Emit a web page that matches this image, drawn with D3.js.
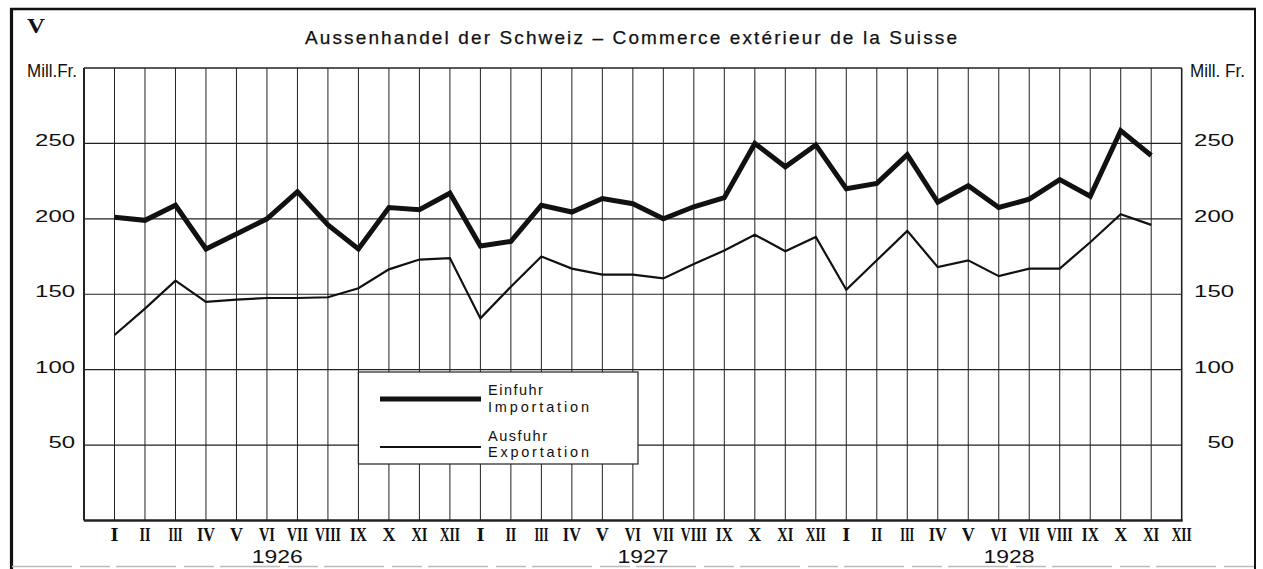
<!DOCTYPE html>
<html>
<head>
<meta charset="utf-8">
<script src="https://cdn.jsdelivr.net/npm/d3@7"></script>
<style>
html,body{margin:0;padding:0;background:#fff;}
svg{display:block;}
</style>
</head>
<body>
<svg id="chart" width="1263" height="569"></svg>
<script>
// ---- data ----
const years = ["1926", "1927", "1928"];
const monthLabels = ["I","II","III","IV","V","VI","VII","VIII","IX","X","XI","XII"];
const yTicks = [50, 100, 150, 200, 250];
// Einfuhr / Importation (Mill. Fr.), I.1926 .. XI.1928
const importValues = [
  201, 199, 209, 180, 190, 200, 218, 196, 180, 207.5, 206, 217,
  182, 185, 209, 204.5, 213.5, 210, 200, 208, 214, 250, 234.5, 249,
  220, 223.5, 242.5, 211, 222, 207.5, 213, 226, 215, 258.5, 242
];
// Ausfuhr / Exportation (Mill. Fr.), I.1926 .. XI.1928
const exportValues = [
  123, 140.5, 159, 145, 146.5, 147.5, 147.5, 148, 154, 166.5, 173, 174,
  134, 155, 175, 167, 163, 163, 160.5, 170, 179, 189.5, 178.5, 188,
  153, 172.5, 192, 168, 172.5, 162, 167, 167, 184.5, 203, 196
];
const titleText = "Aussenhandel der Schweiz \u2013 Commerce extérieur de la Suisse";
const unitText = "Mill.Fr.";
const unitTextRight = "Mill. Fr.";
const legendItems = [["Einfuhr", "Importation"], ["Ausfuhr", "Exportation"]];

// ---- layout ----
const svg = d3.select("#chart");
const X0 = 84, X1 = 1181.7, Y0 = 520.5, Y1 = 68;
const nSlots = years.length * 12; // 36
const x = d3.scaleLinear().domain([0, nSlots]).range([X0, X1]);
const y = d3.scaleLinear().domain([0, 300]).range([Y0, Y1]);

const sans = "'Liberation Sans', Arial, sans-serif";
const serif = "'Liberation Serif', 'DejaVu Serif', serif";

// outer frame
const frame = svg.append("g").attr("stroke", "#111").attr("fill", "none");
frame.append("line").attr("x1", 10).attr("x2", 1256).attr("y1", 9).attr("y2", 9).attr("stroke-width", 2.5);
frame.append("line").attr("x1", 11.5).attr("x2", 11.5).attr("y1", 8).attr("y2", 569).attr("stroke-width", 3.2);
frame.append("line").attr("x1", 1255).attr("x2", 1255).attr("y1", 8).attr("y2", 569).attr("stroke-width", 2);
svg.append("line").attr("x1", 12).attr("x2", 1255).attr("y1", 566.5).attr("y2", 566.5)
  .attr("stroke", "#bbb").attr("stroke-width", 1.5).attr("stroke-dasharray", "60,8,30,6");

// "V" marker
svg.append("text").attr("x", 27).attr("y", 33).text("V")
  .attr("font-family", serif).attr("font-weight", "bold").attr("font-size", 21).attr("fill", "#111")
  .attr("textLength", 18).attr("lengthAdjust", "spacingAndGlyphs");

// title
svg.append("text").attr("x", 305).attr("y", 44).text(titleText)
  .attr("font-family", sans).attr("font-size", 19).attr("fill", "#111")
  .attr("stroke", "#111").attr("stroke-width", 0.25)
  .attr("textLength", 652).attr("lengthAdjust", "spacing");

// unit labels
svg.append("text").attr("x", 27).attr("y", 77).text(unitText)
  .attr("font-family", sans).attr("font-size", 18).attr("fill", "#111")
  .attr("textLength", 50).attr("lengthAdjust", "spacingAndGlyphs");
svg.append("text").attr("x", 1190).attr("y", 77).text(unitTextRight)
  .attr("font-family", sans).attr("font-size", 18).attr("fill", "#111")
  .attr("textLength", 55).attr("lengthAdjust", "spacingAndGlyphs");

// grid
const grid = svg.append("g").attr("stroke", "#222").attr("fill", "none");
grid.selectAll("line.v").data(d3.range(1, nSlots)).join("line")
  .attr("x1", d => x(d)).attr("x2", d => x(d)).attr("y1", Y1).attr("y2", Y0)
  .attr("stroke-width", 1);
grid.selectAll("line.h").data(yTicks).join("line")
  .attr("x1", X0).attr("x2", X1).attr("y1", d => y(d)).attr("y2", d => y(d))
  .attr("stroke-width", 1.1);
// plot border
grid.append("line").attr("x1", X0).attr("x2", X1).attr("y1", Y1).attr("y2", Y1).attr("stroke-width", 1.6);
grid.append("line").attr("x1", X0).attr("x2", X1 + 1).attr("y1", Y0).attr("y2", Y0).attr("stroke-width", 2.5);
grid.append("line").attr("x1", X0).attr("x2", X0).attr("y1", Y1).attr("y2", Y0).attr("stroke-width", 2);
grid.append("line").attr("x1", X1).attr("x2", X1).attr("y1", Y1).attr("y2", Y0).attr("stroke-width", 1.6);

// y tick labels (both sides)
const tickW = d => String(d).length * 13.3;
svg.append("g").selectAll("text").data(yTicks).join("text")
  .attr("x", d => 75 - tickW(d)).attr("y", d => y(d) + 3)
  .text(d => d).attr("font-family", sans).attr("font-size", 16).attr("fill", "#111")
  .attr("textLength", tickW).attr("lengthAdjust", "spacingAndGlyphs");
svg.append("g").selectAll("text").data(yTicks).join("text")
  .attr("x", d => 1234 - tickW(d)).attr("y", d => y(d) + 3)
  .text(d => d).attr("font-family", sans).attr("font-size", 16).attr("fill", "#111")
  .attr("textLength", tickW).attr("lengthAdjust", "spacingAndGlyphs");

// x month labels
const numW = {"I":8,"II":11,"III":14,"IV":18,"V":13,"VI":16,"VII":21,"VIII":26,"IX":17,"X":13,"XI":16,"XII":20};
const slots = d3.range(nSlots).map(i => ({i: i + 1, m: monthLabels[i % 12]}));
svg.append("g").selectAll("text").data(slots).join("text")
  .attr("x", d => x(d.i) - numW[d.m] / 2).attr("y", 541)
  .text(d => d.m).attr("font-family", serif).attr("font-weight", "bold").attr("font-size", 18).attr("fill", "#111")
  .attr("textLength", d => numW[d.m]).attr("lengthAdjust", "spacingAndGlyphs");

// years
svg.append("g").selectAll("text").data(years).join("text")
  .attr("x", (d, k) => x(k * 12 + 6.5) - 5 - 25.5).attr("y", 563)
  .text(d => d).attr("font-family", sans).attr("font-size", 18.5).attr("fill", "#111")
  .attr("textLength", 51).attr("lengthAdjust", "spacingAndGlyphs");

// legend
const lg = svg.append("g");
lg.append("rect").attr("x", x(9)).attr("y", 372).attr("width", 638 - x(9)).attr("height", 92)
  .attr("fill", "#fff").attr("stroke", "#222").attr("stroke-width", 1.2);
const lgY = [399, 447];
const lgW = [5, 2.2];
legendItems.forEach((it, k) => {
  lg.append("line").attr("x1", 380).attr("x2", 481).attr("y1", lgY[k]).attr("y2", lgY[k])
    .attr("stroke", "#111").attr("stroke-width", lgW[k]);
  lg.append("text").attr("x", 488).attr("y", k === 0 ? 395 : 441).text(it[0])
    .attr("font-family", sans).attr("font-size", 14.5).attr("fill", "#111").attr("letter-spacing", 1.5);
  lg.append("text").attr("x", 488).attr("y", k === 0 ? 412 : 457).text(it[1])
    .attr("font-family", sans).attr("font-size", 14.5).attr("fill", "#111")
    .attr("textLength", 101).attr("lengthAdjust", "spacing");
});

// data lines
const line = d3.line().x((d, i) => x(i + 1)).y(d => y(d));
svg.append("path").datum(exportValues).attr("d", line)
  .attr("fill", "none").attr("stroke", "#111").attr("stroke-width", 2.2)
  .attr("stroke-linejoin", "miter");
svg.append("path").datum(importValues).attr("d", line)
  .attr("fill", "none").attr("stroke", "#111").attr("stroke-width", 5)
  .attr("stroke-linejoin", "miter").attr("stroke-miterlimit", 3);
</script>
</body>
</html>
